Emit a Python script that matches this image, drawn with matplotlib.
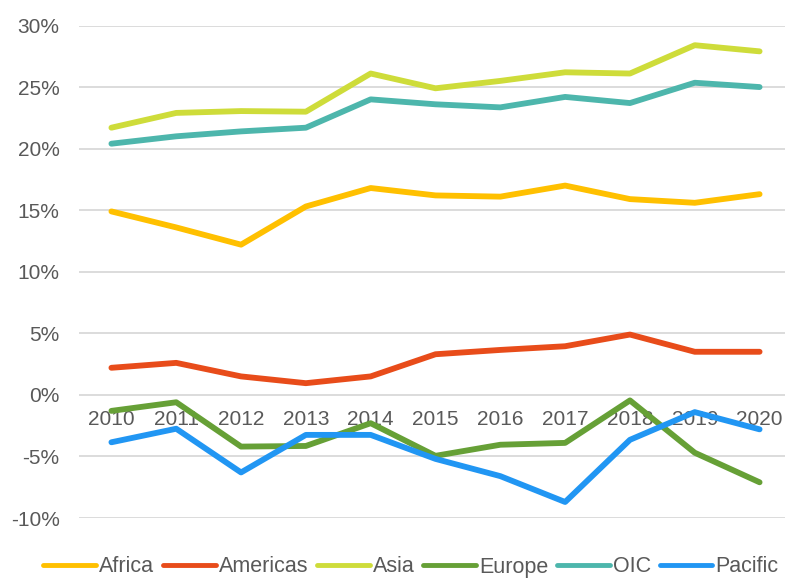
import matplotlib
matplotlib.use("Agg")
import matplotlib.pyplot as plt
from matplotlib.ticker import FuncFormatter

years = ["2010", "2011", "2012", "2013", "2014", "2015", "2016", "2017", "2018", "2019", "2020"]
africa = [14.9, 13.6, 12.2, 15.3, 16.8, 16.2, 16.1, 17.0, 15.9, 15.6, 16.3]
americas = [2.2, 2.6, 1.5, 0.95, 1.5, 3.3, 3.65, 3.95, 4.9, 3.5, 3.5]
asia = [21.7, 22.9, 23.05, 23.0, 26.1, 24.9, 25.5, 26.2, 26.1, 28.4, 27.9]
europe = [-1.3, -0.6, -4.2, -4.15, -2.3, -4.95, -4.05, -3.9, -0.45, -4.7, -7.1]
oic = [20.4, 21.0, 21.4, 21.7, 24.0, 23.6, 23.35, 24.2, 23.7, 25.35, 25.0]
pacific = [-3.85, -2.75, -6.3, -3.25, -3.25, -5.2, -6.6, -8.7, -3.65, -1.4, -2.8]

series = [
    ("Africa", africa, "#FFC000"),
    ("Americas", americas, "#E84C1A"),
    ("Asia", asia, "#CEDC3A"),
    ("Europe", europe, "#66A036"),
    ("OIC", oic, "#4DB6AC"),
    ("Pacific", pacific, "#2196F3"),
]

plt.rcParams['font.family'] = ['Liberation Sans', 'DejaVu Sans']
grey = "#595959"

fig = plt.figure(figsize=(7.85, 5.79), dpi=100)
ax = fig.add_axes([79/785, 1-518/579, (792-79)/785, (518-25.5)/579])

x = list(range(len(years)))
for name, vals, col in series:
    ax.plot(x, vals, color=col, lw=4.2, label=name, solid_capstyle='round', solid_joinstyle='round', zorder=2)

ax.set_xlim(-0.5, len(years) - 0.5)
ax.set_ylim(-10, 30)
ax.set_yticks(range(-10, 31, 5))
ax.yaxis.set_major_formatter(FuncFormatter(lambda v, p: f"{int(v)}%"))
ax.set_xticks(x)
ax.set_xticklabels(years)
ax.grid(axis='y', color='#D9D9D9', lw=1.3)
ax.set_axisbelow(True)
for s in ['top', 'right', 'left']:
    ax.spines[s].set_visible(False)
ax.spines['bottom'].set_position(('data', 0))
ax.spines['bottom'].set_color('none')
ax.tick_params(axis='x', length=0, pad=11, labelsize=15, labelcolor=grey)
ax.tick_params(axis='y', length=0, pad=14, labelsize=15, labelcolor=grey)

leg = fig.legend(loc='center', bbox_to_anchor=(411/785, 1-567/579), ncol=6, frameon=False,
                 fontsize=15.5, handlelength=2.45, handletextpad=0.15, columnspacing=0.4,
                 labelcolor=grey)
for h in leg.get_lines():
    h.set_linewidth(3.5)
    h.set_solid_capstyle('round')

fig.savefig("out.png", dpi=100)
